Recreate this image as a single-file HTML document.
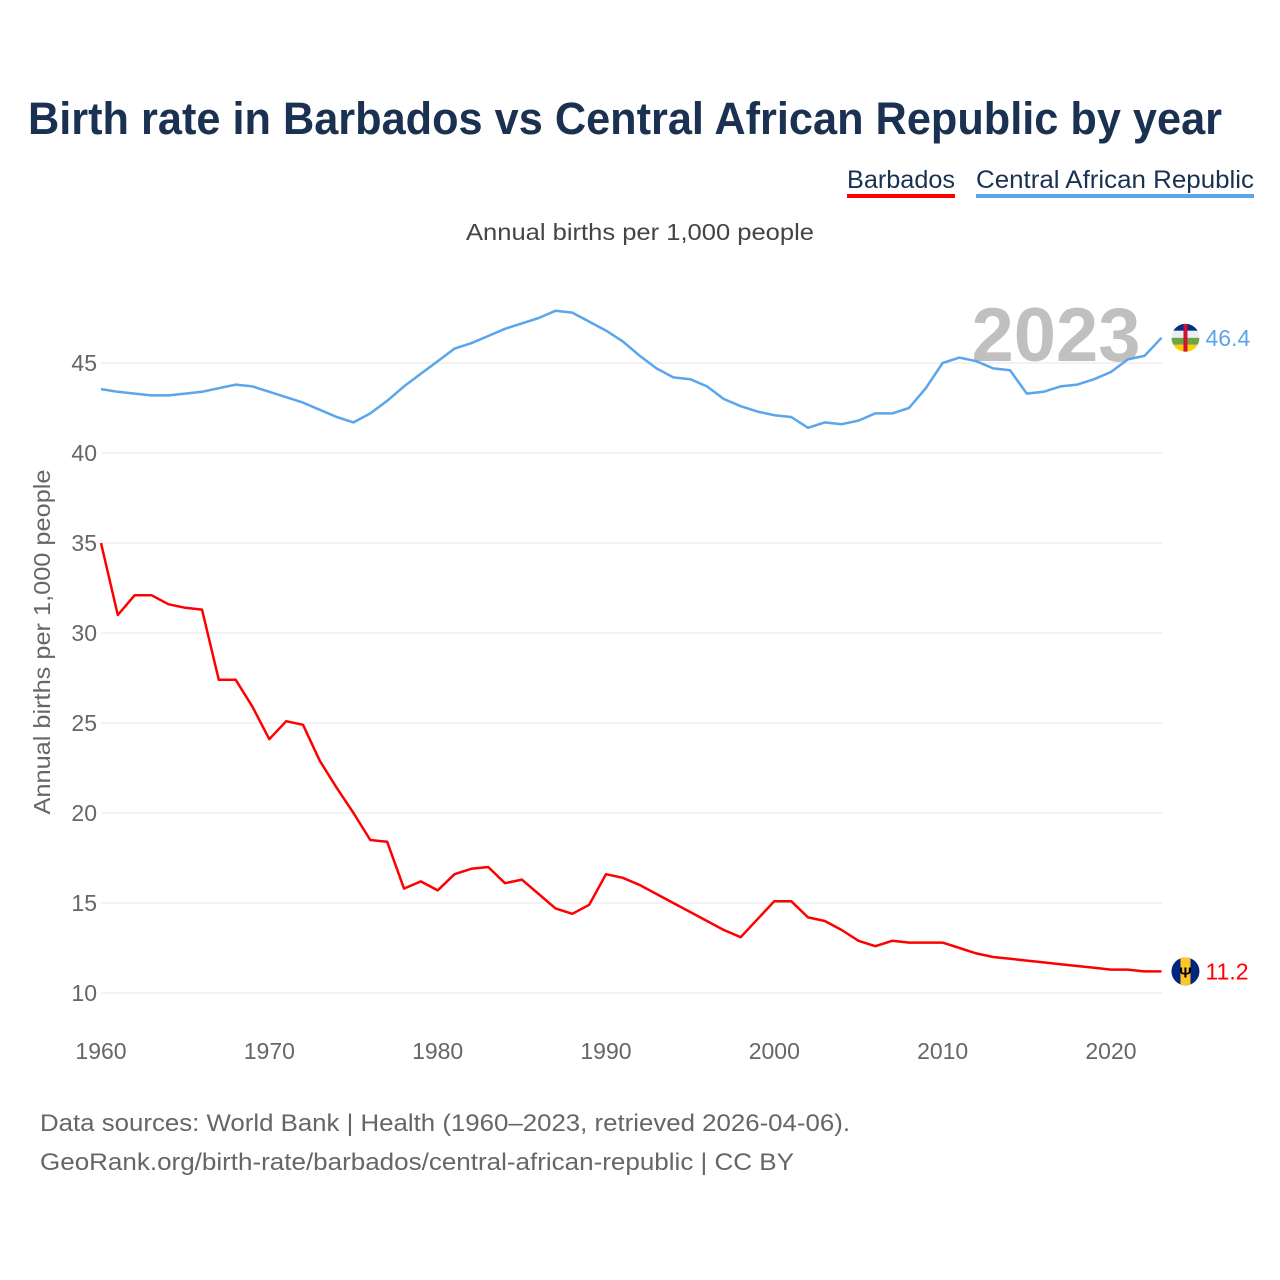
<!DOCTYPE html>
<html><head><meta charset="utf-8">
<style>
body{margin:0;background:#fff;font-family:"Liberation Sans",sans-serif;}
#wrap{position:relative;width:1280px;height:1280px;overflow:hidden;}
</style></head>
<body>
<div id="wrap">
<svg id="chart" width="1280" height="1280">
<defs>
<clipPath id="clipCar"><circle cx="1186" cy="338" r="14"/></clipPath>
<clipPath id="clipBb"><circle cx="1186" cy="971" r="14"/></clipPath>
</defs>
<text x="28" y="134" textLength="1194" lengthAdjust="spacingAndGlyphs" font-size="45" font-weight="bold" fill="#1a3152">Birth rate in Barbados vs Central African Republic by year</text>
<g>
<text x="847" y="188" textLength="108" lengthAdjust="spacingAndGlyphs" font-size="25" fill="#1a3152">Barbados</text>
<rect x="847" y="194" width="108" height="4" fill="#ff0000"/></g>
<g>
<text x="976" y="188" textLength="278" lengthAdjust="spacingAndGlyphs" font-size="25" fill="#1a3152">Central African Republic</text>
<rect x="976" y="194" width="278" height="4" fill="#5aa5ec"/></g>
<text x="466" y="240" textLength="348" lengthAdjust="spacingAndGlyphs" font-size="23" fill="#444">Annual births per 1,000 people</text>
<text x="50" y="642" transform="rotate(-90 50 642)" text-anchor="middle" textLength="345" lengthAdjust="spacingAndGlyphs" font-size="23" fill="#666">Annual births per 1,000 people</text>
<text x="1056" y="361" text-anchor="middle" font-size="76" font-weight="bold" fill="#c0c0c0">2023</text>
<g id="grid"></g><g id="xt"></g><g id="lines"></g>
<text x="40" y="1131" textLength="810" lengthAdjust="spacingAndGlyphs" font-size="24" fill="#666">Data sources: World Bank | Health (1960–2023, retrieved 2026-04-06).</text>
<text x="40" y="1170" textLength="754" lengthAdjust="spacingAndGlyphs" font-size="24" fill="#666">GeoRank.org/birth-rate/barbados/central-african-republic | CC BY</text>
</svg>
</div>
<script>
const startYear = 1960;
const yTicks = [10,15,20,25,30,35,40,45];
const xTicks = [1960,1970,1980,1990,2000,2010,2020];
const barbados = [35.0,31.0,32.1,32.1,31.6,31.4,31.3,27.4,27.4,25.9,24.1,25.1,24.9,22.9,21.4,20.0,18.5,18.4,15.8,16.2,15.7,16.6,16.9,17.0,16.1,16.3,15.5,14.7,14.4,14.9,16.6,16.4,16.0,15.5,15.0,14.5,14.0,13.5,13.1,14.1,15.1,15.1,14.2,14.0,13.5,12.9,12.6,12.9,12.8,12.8,12.8,12.5,12.2,12.0,11.9,11.8,11.7,11.6,11.5,11.4,11.3,11.3,11.2,11.2];
const car = [43.55,43.4,43.3,43.2,43.2,43.3,43.4,43.6,43.8,43.7,43.4,43.1,42.8,42.4,42.0,41.7,42.2,42.9,43.7,44.4,45.1,45.8,46.1,46.5,46.9,47.2,47.5,47.9,47.8,47.3,46.8,46.2,45.4,44.7,44.2,44.1,43.7,43.0,42.6,42.3,42.1,42.0,41.4,41.7,41.6,41.8,42.2,42.2,42.5,43.6,45.0,45.3,45.1,44.7,44.6,43.3,43.4,43.7,43.8,44.1,44.5,45.2,45.4,46.4];
const X = yr => 101 + (yr-1960)*16.833;
const Y = v => 993 - (v-10)*18;
const NS='http://www.w3.org/2000/svg';
function mk(tag, attrs, parent){const e=document.createElementNS(NS,tag);for(const k in attrs)e.setAttribute(k,attrs[k]);parent.appendChild(e);return e;}
const grid=document.getElementById('grid');
yTicks.forEach(v=>{
  const l=mk('line',{x1:101,x2:1162,y1:Y(v),y2:Y(v),stroke:'#e6e6e6','stroke-width':1},grid);
  
  
  const t=mk('text',{x:97,y:Y(v)+8,'text-anchor':'end','font-size':23,fill:'#666'},grid);
  t.textContent=v;
  
  
});
const xt=document.getElementById('xt');
xTicks.forEach(yr=>{
  const t=mk('text',{x:X(yr),y:1059,'text-anchor':'middle','font-size':23,fill:'#666'},xt);
  t.textContent=yr;
  
  
});
const lines=document.getElementById('lines');
function series(data,color,name){
  const pts=data.map((v,i)=>X(startYear+i).toFixed(1)+','+Y(v).toFixed(1)).join(' ');
  const p=mk('polyline',{points:pts,fill:'none',stroke:color,'stroke-width':2.5,'stroke-linejoin':'round'},lines);
  
  
  const last=data[data.length-1];
  const lx=X(startYear+data.length-1), ly=Y(last);
  const cx=lx+24;
  const g=mk('g',{'clip-path':name==='barbados'?'url(#clipBb)':'url(#clipCar)',transform:'translate('+(cx-1186)+','+(ly-(name==='barbados'?971:338))+')'},lines);
  
  
  const by=name==='barbados'?971:338;
  if(name==='barbados'){
    mk('rect',{x:1172,y:by-14,width:28,height:28,fill:'#00267f'},g);
    mk('rect',{x:1181,y:by-14,width:10,height:28,fill:'#ffc726'},g);
    const tr=mk('text',{x:1186,y:by+6,'text-anchor':'middle','font-size':15,'font-weight':'bold',fill:'#000'},g);
    tr.textContent='Ψ';
  } else {
    mk('rect',{x:1172,y:by-14,width:28,height:7,fill:'#003082'},g);
    mk('rect',{x:1172,y:by-7,width:28,height:7,fill:'#eee'},g);
    mk('rect',{x:1172,y:by,width:28,height:7,fill:'#6ba547'},g);
    mk('rect',{x:1172,y:by+7,width:28,height:7,fill:'#ffce00'},g);
    mk('rect',{x:1184,y:by-14,width:4,height:28,fill:'#d21034'},g);
  }
  const t=mk('text',{x:lx+44,y:ly+8,'font-size':23,fill:color},lines);
  t.textContent=last.toFixed(1);
  
  
}
series(car,'#5aa5ec','car');
series(barbados,'#ff0000','barbados');
</script>
</body></html>
